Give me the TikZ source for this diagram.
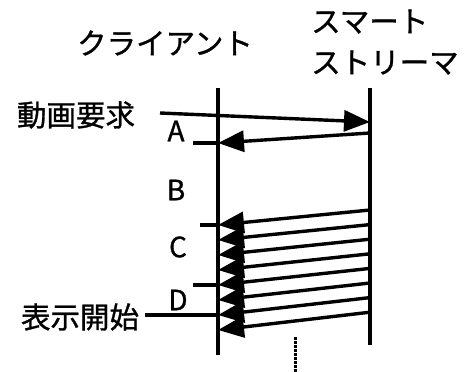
\documentclass[tikz,border=0pt]{standalone}
\usepackage{fontspec}
\newfontfamily\jp{Noto Sans CJK JP}[BoldFont={Noto Sans CJK JP}, BoldFeatures={FakeBold=1}]
\usetikzlibrary{arrows.meta}
\tikzset{
  life/.style={line width=3.4pt},
  msg/.style={line width=3.4pt, -{Triangle[length=26pt,width=21pt]}},
  tick/.style={line width=3.4pt},
  lbl/.style={font=\jp\bfseries\fontsize{29.5}{41}\selectfont, inner sep=0pt},
  let/.style={font=\jp\bfseries\fontsize{28}{30}\selectfont, inner sep=0pt}
}
\begin{document}
\begin{tikzpicture}[x=1pt, y=-1pt]
    \useasboundingbox (0,0) rectangle (472,372);
    % lifelines
    \coordinate (c0) at (218,88);
    \coordinate (c9) at (218,355);
    \coordinate (s0) at (370,88);
    \coordinate (s9) at (370,345);
    \draw[life] (c0) -- (c9);
    \draw[life] (s0) -- (s9);
    % titles
    \node[lbl] (cli) at (165,43) {クライアント};
    \node[lbl, align=left, anchor=west] (srv) at (311,42) {スマート\\ストリーマ};
    % request and answer
    \coordinate (q0) at (160,113);
    \coordinate (q1) at (370,122);
    \coordinate (a0) at (370,133);
    \coordinate (a1) at (218,143);
    \coordinate (a2) at (193,143);
    \draw[msg] (q0) -- (q1);
    \draw[msg] (a0) -- (a1);
    \draw[tick] (a1) -- (a2);
    % stream
    \foreach \i in {0,...,7} {
        \coordinate (r\i) at (370,210+14.6*\i);
        \coordinate (l\i) at (218,225+15*\i);
        \draw[msg] (r\i) -- (l\i);
    }
    \coordinate (t0) at (200,225);
    \coordinate (t4) at (193,285);
    \coordinate (t6) at (145,315);
    \draw[tick] (l0) -- (t0);
    \draw[tick] (l4) -- (t4);
    \draw[tick] (l6) -- (t6);
    % labels
    \node[lbl] (req) at (76,115) {動画要求};
    \node[lbl] (show) at (80,317) {表示開始};
    \node[let] (A) at (176,131) {A};
    \node[let] (B) at (176,190) {B};
    \node[let] (C) at (178,247) {C};
    \node[let] (D) at (178,300) {D};
    % continuation
    \coordinate (d0) at (295,337);
    \coordinate (d1) at (295,372);
    \draw[line width=3pt, dash pattern=on 2.5pt off 1.5pt] (d0) -- (d1);
\end{tikzpicture}
\end{document}
